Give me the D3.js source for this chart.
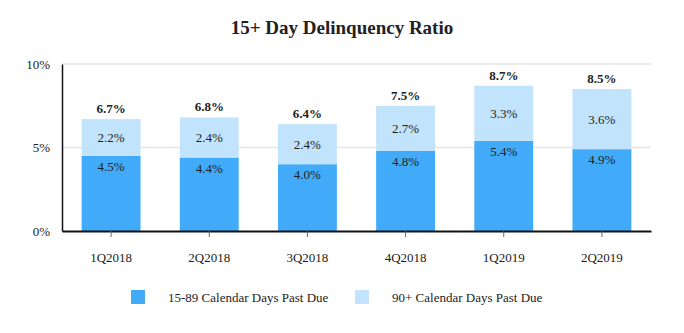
<!DOCTYPE html>
<html>
<head>
<meta charset="utf-8">
<script src="https://cdn.jsdelivr.net/npm/d3@7"></script>
<style>
  body { margin: 0; background: #fff; }
  text { font-family: "Liberation Serif", "Times New Roman", serif; fill: #222; }
</style>
</head>
<body>
<svg id="chart" width="684" height="333"></svg>
<script>
const quarters = ["1Q2018", "2Q2018", "3Q2018", "4Q2018", "1Q2019", "2Q2019"];
const early = [4.5, 4.4, 4.0, 4.8, 5.4, 4.9];
const late = [2.2, 2.4, 2.4, 2.7, 3.3, 3.6];
const totals = [6.7, 6.8, 6.4, 7.5, 8.7, 8.5];
const yTicks = [0, 5, 10];
const seriesNames = ["15-89 Calendar Days Past Due", "90+ Calendar Days Past Due"];
const colors = ["#42abf9", "#c2e3fc"];

const width = 684, height = 333;
const margin = { top: 64, right: 33, bottom: 102, left: 62 };
const svg = d3.select("#chart");

const x = d3.scaleBand()
  .domain(quarters)
  .range([margin.left, width - margin.right])
  .paddingInner(0.4)
  .paddingOuter(0.2);

const y = d3.scaleLinear()
  .domain([0, 10])
  .range([height - margin.bottom, margin.top]);

// title
svg.append("text")
  .attr("x", width / 2)
  .attr("y", 34)
  .attr("text-anchor", "middle")
  .style("font-size", "19px")
  .style("font-weight", "bold")
  .text("15+ Day Delinquency Ratio");

// gridlines
svg.append("g")
  .selectAll("line")
  .data(yTicks.filter((d) => d > 0))
  .enter()
  .append("line")
  .attr("x1", margin.left)
  .attr("x2", width - margin.right)
  .attr("y1", (d) => y(d))
  .attr("y2", (d) => y(d))
  .attr("stroke", "#e6e6e6")
  .attr("stroke-width", 1.5);

// y axis
const yAxis = svg.append("g")
  .attr("transform", `translate(${margin.left},0)`)
  .call(d3.axisLeft(y).tickValues(yTicks).tickSize(0).tickFormat((d) => d + "%"));
yAxis.select(".domain").attr("stroke", "#111").attr("stroke-width", 1.5);
yAxis.selectAll("text")
  .attr("x", -12)
  .style("font-size", "13px")
  .style("font-family", "Liberation Serif, serif");

const data = quarters.map((q, i) => ({ q, early: early[i], late: late[i], total: totals[i] }));

// stacked bars
const bars = svg.append("g").selectAll("g").data(data).enter().append("g");

bars.append("rect")
  .attr("x", (d) => x(d.q))
  .attr("width", x.bandwidth())
  .attr("y", (d) => y(d.early))
  .attr("height", (d) => y(0) - y(d.early))
  .attr("fill", colors[0]);

bars.append("rect")
  .attr("x", (d) => x(d.q))
  .attr("width", x.bandwidth())
  .attr("y", (d) => y(d.early + d.late))
  .attr("height", (d) => y(d.early) - y(d.early + d.late))
  .attr("fill", colors[1]);

// segment labels
bars.append("text")
  .attr("x", (d) => x(d.q) + x.bandwidth() / 2)
  .attr("y", (d) => y(d.early) + 15)
  .attr("text-anchor", "middle")
  .style("font-size", "13px")
  .text((d) => d.early.toFixed(1) + "%");

bars.append("text")
  .attr("x", (d) => x(d.q) + x.bandwidth() / 2)
  .attr("y", (d) => (y(d.early) + y(d.early + d.late)) / 2 + 5)
  .attr("text-anchor", "middle")
  .style("font-size", "13px")
  .text((d) => d.late.toFixed(1) + "%");

bars.append("text")
  .attr("x", (d) => x(d.q) + x.bandwidth() / 2)
  .attr("y", (d) => y(d.early + d.late) - 6)
  .attr("text-anchor", "middle")
  .style("font-size", "13px")
  .style("font-weight", "bold")
  .text((d) => d.total.toFixed(1) + "%");

// x axis
const xAxis = svg.append("g")
  .attr("transform", `translate(0,${y(0)})`)
  .call(d3.axisBottom(x).tickSize(6).tickSizeOuter(0));
xAxis.select(".domain").attr("stroke", "#111").attr("stroke-width", 2);
xAxis.selectAll(".tick line").attr("stroke", "#666");
xAxis.selectAll("text")
  .attr("y", 22)
  .attr("dy", "0.71em")
  .style("font-size", "13px")
  .style("font-family", "Liberation Serif, serif");

// legend
const legendX = [131, 355];
const legend = svg.append("g").selectAll("g").data(seriesNames).enter().append("g")
  .attr("transform", (d, i) => `translate(${legendX[i]},290)`);
legend.append("rect")
  .attr("width", 14)
  .attr("height", 14)
  .attr("fill", (d, i) => colors[i]);
legend.append("text")
  .attr("x", 37)
  .attr("y", 12)
  .style("font-size", "13px")
  .text((d) => d);
</script>
</body>
</html>
